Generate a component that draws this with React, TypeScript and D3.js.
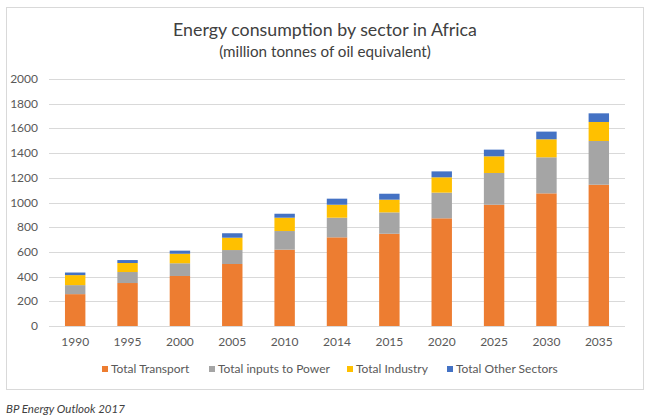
import React from "react";
import * as d3 from "d3";

const years = ["1990", "1995", "2000", "2005", "2010", "2014", "2015", "2020", "2025", "2030", "2035"];
const transport = [258, 348, 405, 502, 618, 718, 747, 872, 982, 1074, 1144];
const power = [73, 89, 103, 113, 151, 159, 173, 208, 257, 292, 354];
const industry = [81, 73, 77, 100, 108, 105, 103, 124, 135, 146, 154];
const other = [21, 24, 25, 36, 32, 49, 48, 48, 54, 62, 70];
const seriesNames = ["Total Transport", "Total inputs to Power", "Total Industry", "Total Other Sectors"];
const seriesColors = ["#ED7D31", "#A5A5A5", "#FFC000", "#4472C4"];
const yTicks = [0, 200, 400, 600, 800, 1000, 1200, 1400, 1600, 1800, 2000];

const FONT = "Lato, 'Open Sans', sans-serif";

export default function App() {
  const W = 650, H = 420;
  const left = 49, right = 625, top = 79, bottom = 326;
  const keys = ["t", "p", "i", "o"];
  const rows = years.map((y, k) => ({ year: y, t: transport[k], p: power[k], i: industry[k], o: other[k] }));
  const stacked = d3.stack<any>().keys(keys)(rows);
  const x = d3.scaleBand<string>().domain(years).range([left, right]).paddingInner(0.61).paddingOuter(0.305);
  const y = d3.scaleLinear().domain([0, 2000]).range([bottom, top]);

  const legendX = [102, 209, 347, 447];

  return (
    <svg width={W} height={H} style={{ position: "absolute", left: 0, top: 0, background: "#fff" }} fontFamily={FONT}>
      <rect x={6.5} y={7.5} width={637} height={382} fill="#fff" stroke="#d9d9d9" strokeWidth={1} />
      <text x={325} y={36} textAnchor="middle" fontSize={17.8} fill="#404040">Energy consumption by sector in Africa</text>
      <text x={325} y={57} textAnchor="middle" fontSize={15.2} fill="#404040">(million tonnes of oil equivalent)</text>
      {yTicks.map((t) => (
        <g key={t}>
          <line x1={left} x2={right} y1={Math.round(y(t)) + 0.5} y2={Math.round(y(t)) + 0.5} stroke="#d9d9d9" strokeWidth={1} />
          <text x={38} y={y(t) + 4} textAnchor="end" fontSize={12} fill="#595959">{t}</text>
        </g>
      ))}
      {stacked.map((s, si) => (
        <g key={si} fill={seriesColors[si]}>
          {s.map((d: any, k: number) => (
            <rect key={k} x={x(years[k])} width={x.bandwidth()} y={y(d[1])} height={y(d[0]) - y(d[1])} />
          ))}
        </g>
      ))}
      {years.map((yr) => (
        <text key={yr} x={(x(yr) as number) + x.bandwidth() / 2} y={346} textAnchor="middle" fontSize={12} fill="#595959">{yr}</text>
      ))}
      {seriesNames.map((n, si) => (
        <g key={n}>
          <rect x={legendX[si]} y={366} width={6} height={6} fill={seriesColors[si]} />
          <text x={legendX[si] + 9} y={373} fontSize={12} fill="#595959">{n}</text>
        </g>
      ))}
      <text x={6} y={413} fontSize={11.5} fontStyle="italic" fill="#404040">BP Energy Outlook 2017</text>
    </svg>
  );
}
